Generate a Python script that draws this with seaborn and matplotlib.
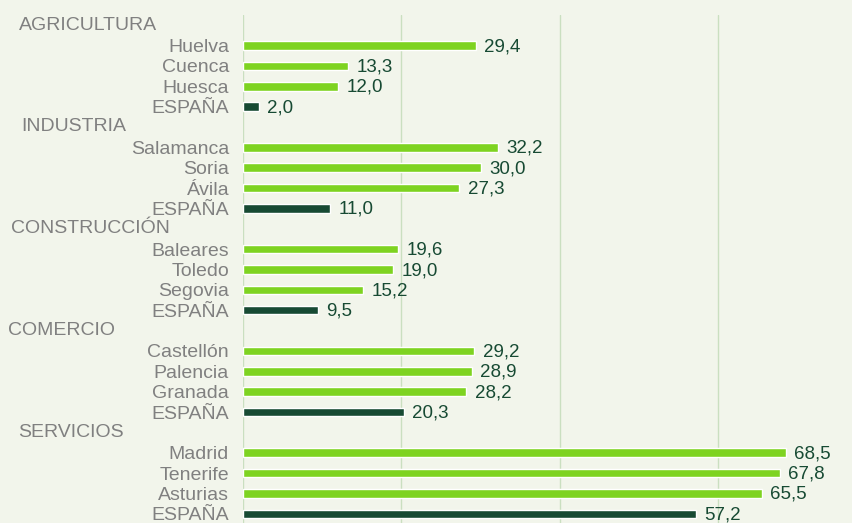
import matplotlib
matplotlib.use("Agg")
import matplotlib.pyplot as plt
import matplotlib.transforms as mtransforms
import seaborn as sns
import pandas as pd

# Data
sectores = ["AGRICULTURA", "INDUSTRIA", "CONSTRUCCIÓN", "COMERCIO", "SERVICIOS"]
provincias = [
    ["Huelva", "Cuenca", "Huesca", "ESPAÑA"],
    ["Salamanca", "Soria", "Ávila", "ESPAÑA"],
    ["Baleares", "Toledo", "Segovia", "ESPAÑA"],
    ["Castellón", "Palencia", "Granada", "ESPAÑA"],
    ["Madrid", "Tenerife", "Asturias", "ESPAÑA"],
]
valores = [
    [29.4, 13.3, 12.0, 2.0],
    [32.2, 30.0, 27.3, 11.0],
    [19.6, 19.0, 15.2, 9.5],
    [29.2, 28.9, 28.2, 20.3],
    [68.5, 67.8, 65.5, 57.2],
]

# Colours / layout
BG = "#f2f5eb"
VERDE = "#7ed321"
OSCURO = "#174a33"
GRIS = "#808080"
GRID = "#cadfc0"
header_x_px = [19, 21, 11, 8, 18]

sns.set_theme(style="white")
plt.rcParams["font.family"] = ["Liberation Sans", "DejaVu Sans"]

# build rows: one header row then the bars of each sector
order, rows = [], []
for sec, provs, vals in zip(sectores, provincias, valores):
    order.append(sec)
    for p, v in zip(provs, vals):
        key = f"{sec}|{p}"
        order.append(key)
        rows.append({"fila": key, "nombre": p, "valor": v,
                     "tipo": "es" if p == "ESPAÑA" else "prov"})
df = pd.DataFrame(rows)

fig = plt.figure(figsize=(8.53, 5.23), dpi=100, facecolor=BG)
W, H = 853, 523
ax = fig.add_axes([243 / W, 1 - 524 / H, 1 - 243 / W, 509 / H])
ax.set_facecolor(BG)

sns.barplot(data=df, x="valor", y="fila", order=order, hue="tipo",
            palette={"prov": VERDE, "es": OSCURO}, dodge=False,
            width=0.42, legend=False, saturation=1, ax=ax)

ax.set_xticks([0, 20, 40, 60, 80])
ax.set_xticklabels([])
ax.set_xlim(0, 610 / 7.92)
ax.set_ylim(len(order) - 0.5, -0.5)
ax.grid(axis="x", color=GRID, lw=1)
ax.tick_params(axis="x", length=0)
for s in ax.spines.values():
    s.set_visible(False)

# y tick labels only for the bar rows
pos = [order.index(k) for k in df["fila"]]
ax.set_yticks(pos)
ax.set_yticklabels(df["nombre"], fontsize=14, color=GRIS)
ax.tick_params(axis="y", length=0, pad=10)
ax.set_xlabel("")
ax.set_ylabel("")

# value labels
for y, v in zip(pos, df["valor"]):
    ax.text(v + 1.05, y + 0.05, f"{v:.1f}".replace(".", ","),
            va="center", ha="left", fontsize=13.5, color=OSCURO)

# sector headers, placed in figure pixel x
trans = mtransforms.blended_transform_factory(fig.transFigure, ax.transData)
for sec, xp in zip(sectores, header_x_px):
    ax.text(xp / W, order.index(sec), sec, transform=trans,
            va="center", ha="left", fontsize=14, color=GRIS)

fig.savefig("out.png", dpi=100, facecolor=BG)
